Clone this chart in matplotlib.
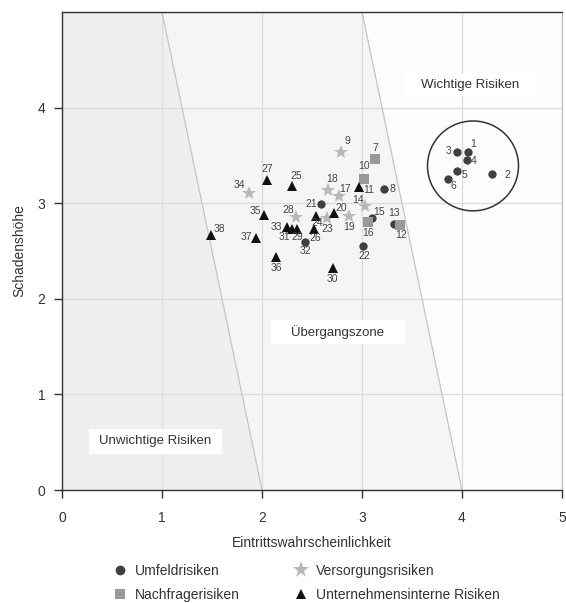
import matplotlib
matplotlib.use("Agg")
import matplotlib.pyplot as plt
from matplotlib.patches import Polygon, Ellipse, Rectangle
from matplotlib.lines import Line2D

plt.rcParams['font.family'] = ['Liberation Sans', 'DejaVu Sans']

# ---------------- data ----------------
umfeld_ids = [1, 2, 3, 4, 5, 6, 8, 13, 15, 21, 22, 32]
umfeld_x = [4.06, 4.30, 3.95, 4.05, 3.95, 3.86, 3.22, 3.32, 3.10, 2.59, 3.01, 2.43]
umfeld_y = [3.54, 3.31, 3.54, 3.45, 3.34, 3.25, 3.15, 2.78, 2.85, 2.99, 2.55, 2.59]

nachfrage_ids = [7, 10, 12, 16]
nachfrage_x = [3.13, 3.02, 3.38, 3.06]
nachfrage_y = [3.46, 3.25, 2.77, 2.80]

versorgung_ids = [9, 14, 17, 18, 19, 23, 28, 34]
versorgung_x = [2.79, 3.03, 2.77, 2.66, 2.87, 2.65, 2.34, 1.87]
versorgung_y = [3.54, 2.97, 3.08, 3.14, 2.87, 2.84, 2.86, 3.11]

intern_ids = [11, 20, 24, 25, 26, 27, 29, 30, 31, 33, 35, 36, 37, 38]
intern_x = [2.97, 2.72, 2.54, 2.30, 2.52, 2.05, 2.35, 2.71, 2.30, 2.25, 2.02, 2.14, 1.94, 1.49]
intern_y = [3.17, 2.90, 2.87, 3.18, 2.73, 3.24, 2.73, 2.32, 2.73, 2.75, 2.88, 2.44, 2.64, 2.67]

series_names = ["Umfeldrisiken", "Nachfragerisiken", "Versorgungsrisiken",
                "Unternehmensinterne Risiken"]
zone_names = ["Unwichtige Risiken", "Übergangszone", "Wichtige Risiken"]
x_label = "Eintrittswahrscheinlichkeit"
y_label = "Schadenshöhe"

# ---------------- layout / style ----------------
# label offsets in pixels (dx, dy) relative to marker, screen coords (dy up positive)
label_off = {
    1: (5, 8), 2: (15, -1), 3: (-8, 1), 4: (7, -1), 5: (7, -4), 6: (5, -7),
    7: (0, 11), 8: (8, 0), 9: (6, 11), 10: (0, 13), 11: (10, -3),
    12: (1, -10), 13: (0, 11), 14: (-7, 6), 15: (7, 6), 16: (0, -11),
    17: (6, 7), 18: (4, 11), 19: (0, -11), 20: (7, 5), 21: (-10, 0),
    22: (1, -10), 23: (0, -11), 24: (1, -7), 25: (4, 10), 26: (1, -9),
    27: (0, 11), 28: (-8, 7), 29: (0, -8), 30: (-1, -11), 31: (-8, -8),
    32: (0, -9), 33: (-11, 0), 34: (-10, 8), 35: (-9, 4), 36: (0, -11),
    37: (-10, 1), 38: (8, 6),
}

fig = plt.figure(figsize=(5.66, 6.03), dpi=100)
ax = fig.add_axes([62 / 566, 113 / 603, 500 / 566, 478 / 603])
ax.set_xlim(0, 5)
ax.set_ylim(0, 5)

# zone fills
ax.add_patch(Polygon([(0, 0), (2, 0), (1, 5), (0, 5)], closed=True,
                     facecolor='#eeeff1', edgecolor='none', zorder=0.1))
ax.add_patch(Polygon([(2, 0), (4, 0), (3, 5), (1, 5)], closed=True,
                     facecolor='#f5f5f5', edgecolor='none', zorder=0.1))
ax.add_patch(Polygon([(4, 0), (5, 0), (5, 5), (3, 5)], closed=True,
                     facecolor='#fcfcfc', edgecolor='none', zorder=0.1))
ax.plot([1, 2], [5, 0], color='#c4c4c4', lw=0.9, zorder=0.6)
ax.plot([3, 4], [5, 0], color='#c4c4c4', lw=0.9, zorder=0.6)

ax.set_axisbelow(True)
ax.grid(True, color='#dcdcdc', lw=0.9)
ax.set_xticks([0, 1, 2, 3, 4, 5])
ax.set_yticks([0, 1, 2, 3, 4])
ax.tick_params(direction='out', length=6, width=1, color='#333333',
               labelsize=10, labelcolor='#333333')
ax.tick_params(axis='x', pad=9)
ax.tick_params(axis='y', pad=6)
for s in ['left', 'bottom', 'top']:
    ax.spines[s].set_color('#333333')
    ax.spines[s].set_linewidth(1.0)
ax.spines['right'].set_color('#bbbbbb')
ax.spines['right'].set_linewidth(0.8)

ax.set_xlabel(x_label, fontsize=10, color='#333333', labelpad=8)
ax.set_ylabel(y_label, fontsize=10, color='#333333', labelpad=8)

# zone label boxes
boxes = [(0.27, 0.38, 1.33, 0.26), (2.09, 1.53, 1.34, 0.25), (3.41, 4.12, 1.34, 0.24)]
for (bx, by, bw, bh), name in zip(boxes, zone_names):
    ax.add_patch(Rectangle((bx, by), bw, bh, facecolor='white', edgecolor='none', zorder=1))
    ax.text(bx + bw / 2, by + bh / 2, name, ha='center', va='center',
            fontsize=9.5, color='#333333', zorder=2)

# circle around top cluster
ax.add_patch(Ellipse((4.11, 3.39), 0.91, 0.94, facecolor='none',
                     edgecolor='#333333', lw=1.1, zorder=3))

styles = [
    (umfeld_ids, umfeld_x, umfeld_y, dict(marker='o', color='#404040', ms=6.0)),
    (nachfrage_ids, nachfrage_x, nachfrage_y, dict(marker='s', color='#999999', ms=6.5)),
    (versorgung_ids, versorgung_x, versorgung_y, dict(marker='*', color='#b8b8b8', ms=10.5)),
    (intern_ids, intern_x, intern_y, dict(marker='^', color='#111111', ms=6.5)),
]
handles = []
for (ids, xs, ys, st), name in zip(styles, series_names):
    ax.plot(xs, ys, linestyle='none', marker=st['marker'], color=st['color'],
            markersize=st['ms'], markeredgewidth=0, zorder=4)
    handles.append(Line2D([], [], linestyle='none', marker=st['marker'],
                          color=st['color'], markersize=st['ms'] + (1 if st['marker'] != '*' else 2),
                          markeredgewidth=0, label=name))
    for i, x, y in zip(ids, xs, ys):
        dx, dy = label_off[i]
        ax.annotate(str(i), (x, y), xytext=(dx * 0.72, dy * 0.72),
                    textcoords='offset points', ha='center', va='center',
                    fontsize=7.5, color='#444444', zorder=5)

leg = fig.legend(handles, series_names,
                 ncol=2, loc='lower left', bbox_to_anchor=(99 / 566, -0.019),
                 frameon=False, fontsize=10, handletextpad=0.5, columnspacing=3.8,
                 labelspacing=0.75, handlelength=1.2, labelcolor='#333333')

fig.savefig('out.png', dpi=100, facecolor='white')
